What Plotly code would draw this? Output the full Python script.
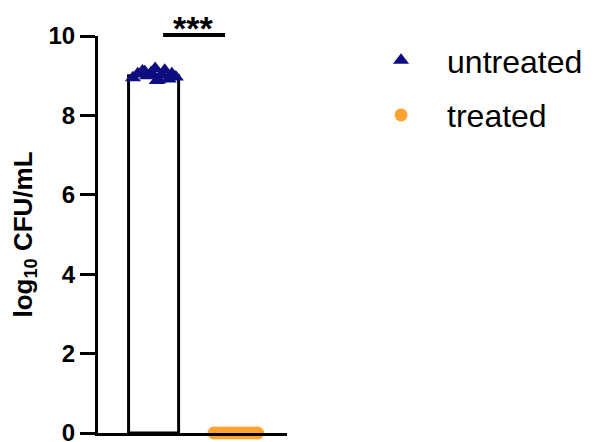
import plotly.graph_objects as go

groups = ["untreated", "treated"]
bar_means = [9.0, 0.0]
untreated_vals = [8.95, 9.05, 9.12, 9.0, 9.08, 9.18, 8.9, 9.02, 9.14, 8.92, 9.05, 8.97, 9.1, 8.88]
untreated_jitter = [-0.26, -0.2, -0.14, -0.08, -0.03, 0.02, 0.06, 0.1, 0.14, 0.19, 0.23, 0.28, -0.11, 0.04]
treated_vals = [0.0] * 12
treated_jitter = [-0.24, -0.19, -0.14, -0.09, -0.04, 0.01, 0.06, 0.11, 0.16, 0.21, 0.26, 0.31]
y_ticks = [0, 2, 4, 6, 8, 10]
sig_label = "***"

fig = go.Figure()
fig.add_trace(go.Bar(x=[0, 1], y=bar_means, width=0.63,
                     marker=dict(color="white", line=dict(color="black", width=3)),
                     showlegend=False, hoverinfo="skip"))
fig.add_trace(go.Scatter(x=[0 + j for j in untreated_jitter], y=untreated_vals, mode="markers",
                         name=groups[0], legendgroup="a", cliponaxis=False,
                         marker=dict(symbol="triangle-up", size=14, color="#0d0d80")))
fig.add_trace(go.Scatter(x=[1 + j for j in treated_jitter], y=treated_vals, mode="markers",
                         name=groups[1], legendgroup="b", cliponaxis=False,
                         marker=dict(symbol="circle", size=13, color="#ffa431")))

fig.add_shape(type="line", x0=0.12, x1=0.9, y0=1.0025, y1=1.0025, xref="x", yref="paper",
              line=dict(color="black", width=4))
fig.add_annotation(x=0.5, y=1.0, xref="x", yref="paper", text="<b>" + sig_label + "</b>",
                   showarrow=False, yanchor="bottom", yshift=-12, borderpad=0,
                   font=dict(size=34, color="black", family="Liberation Sans"))

fig.update_layout(
    width=589, height=434,
    margin=dict(l=90, r=297, t=28, b=9),
    plot_bgcolor="white", paper_bgcolor="white",
    font=dict(family="Liberation Sans", color="black"),
    legend=dict(x=1.36, y=1.0075, xanchor="left", yanchor="top",
                font=dict(size=32, family="Liberation Sans"), itemwidth=82,
                tracegroupgap=10),
    xaxis=dict(range=[-0.7, 1.68], showticklabels=False, ticks="", showgrid=False,
               zeroline=False, showline=True, linecolor="black", linewidth=3,
               automargin=False),
    yaxis=dict(range=[0, 10], tickvals=y_ticks, ticks="outside", ticklen=15, tickwidth=3,
               tickcolor="black", showgrid=False, zeroline=False, showline=True,
               linecolor="black", linewidth=3, ticklabeloverflow="allow", automargin=False,
               tickfont=dict(size=24, family="Liberation Sans", weight="bold"),
               title=dict(text="<b>log<sub>10</sub> CFU/mL</b>", font=dict(size=26), standoff=14)),
)
fig.write_html("out.html")
